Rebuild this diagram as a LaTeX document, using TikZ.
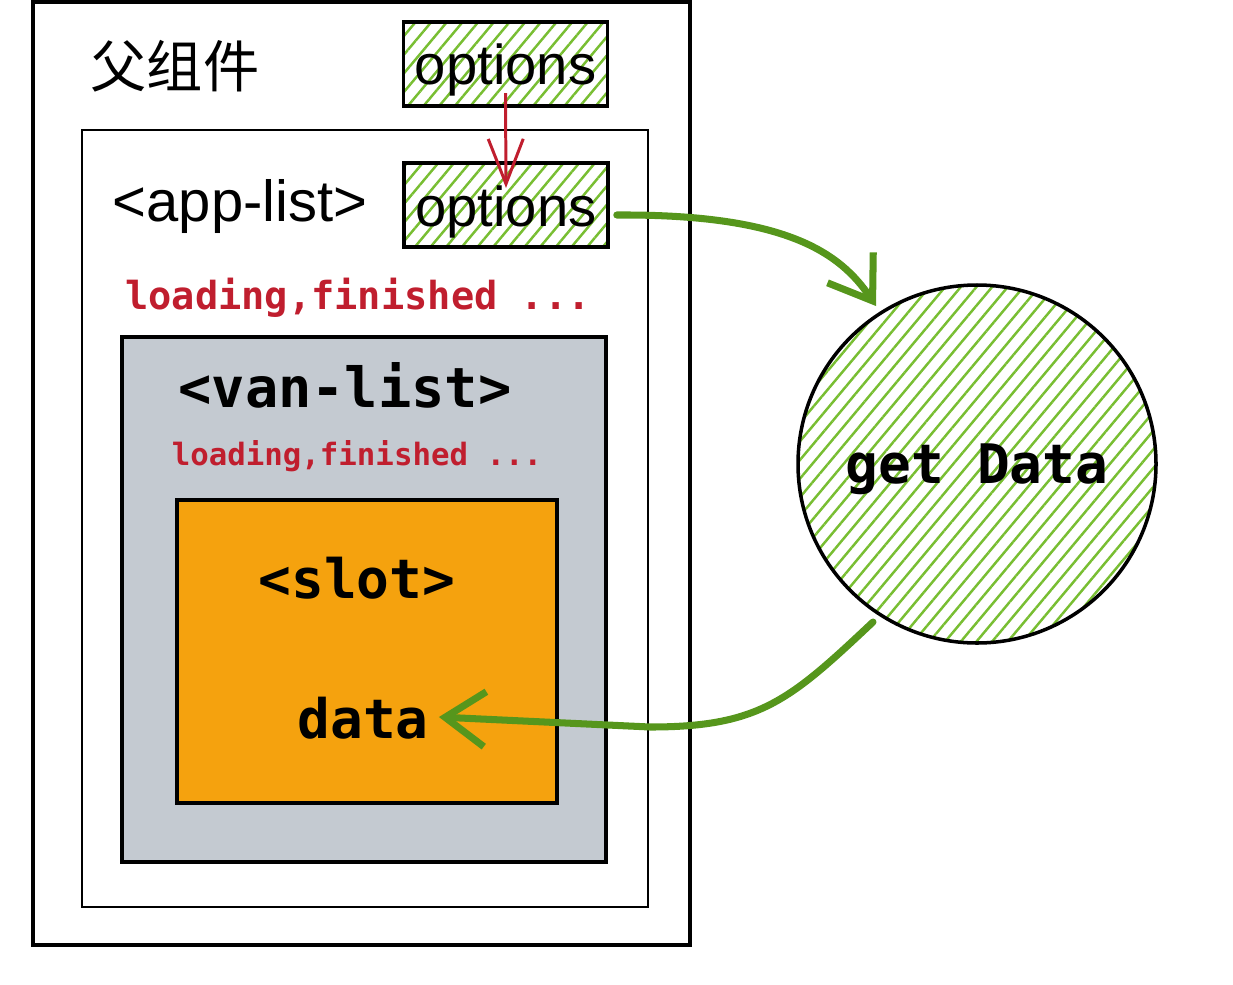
\documentclass[tikz,border=0pt]{standalone}
\usepackage{fontspec}
\setmainfont{Liberation Sans}
\setmonofont{DejaVu Sans Mono}
\newfontfamily\cjkfont{Noto Sans CJK SC}
\usetikzlibrary{arrows.meta,positioning,patterns.meta}
\definecolor{hatchgreen}{RGB}{120,190,50}
\definecolor{arrowgreen}{RGB}{86,150,28}
\definecolor{propred}{RGB}{192,30,46}
\definecolor{listgray}{RGB}{196,202,209}
\definecolor{slotorange}{RGB}{245,162,14}
\newcommand{\fsz}[1]{\fontsize{#1}{#1}\selectfont}

\begin{document}
\begin{tikzpicture}[x=0.02cm,y=-0.02cm,
		hatch/.style={pattern={Lines[angle=50,distance=0.24cm,line width=1.4pt]},pattern color=hatchgreen},
		box/.style 2 args={draw=black,minimum width={#1*0.02cm},minimum height={#2*0.02cm},inner sep=0pt},
		optbox/.style={box={204}{84},line width=2pt,hatch,font=\fsz{32},text height=0.84cm,text depth=0pt},
		codetxt/.style={font=\ttfamily\bfseries\fsz{#1},inner sep=0pt},
		redtxt/.style={codetxt=#1,text=propred},
		flow/.style={arrowgreen,line width=4pt,line cap=round,-{Straight Barb[length=0.8cm,width=1.1cm,line width=4pt]}},
		pass/.style={propred,line width=1.7pt,-{Straight Barb[length=0.9cm,width=0.7cm,line width=1.7pt]}}]
		\useasboundingbox (0,0) rectangle (1233,984);
		% nested components
		\node[box={657}{943},line width=2.8pt] (parent) at (361.5,473.5) {};
		\node[box={566}{777},line width=1.5pt] (applist) at (365,518.5) {};
		\node[box={484}{525},line width=1.8pt,fill=listgray] (vanlist) at (364,599.5) {};
		\node[box={380}{303},line width=1.8pt,fill=slotorange] (slot) at (367,651.5) {};
		% labels
		\node[inner sep=0pt,font=\cjkfont\fsz{32}] (parenttxt) at (175,66) {父组件};
		\node[inner sep=0pt,font=\fsz{33}] (apptxt) at (240,207) {<app-list>};
		\node[redtxt=22] (appstate) at (358,298) {loading,finished ...};
		\node[codetxt=31.5] (vantxt) at (345,385) {<van-list>};
		\node[redtxt=17.5] (vanstate) at (357,456) {loading,finished ...};
		\node[codetxt=31] (slottxt) at (357,578) {<slot>};
		\node[codetxt=31] (data) at (363,718) {data};
		% options props
		\node[optbox] (opt1) at (505.5,64) {options};
		\node[optbox] (opt2) at (506,205) {options};
		\node[circle,draw=black,line width=2pt,minimum size={358*0.02cm},hatch,text depth=0pt,font=\ttfamily\bfseries\fsz{31}] (getdata) at (977,464) {get Data};
		% arrows
		\coordinate (tipA) at (876,306);
		\coordinate (startB) at (873,622);
		\draw[pass] ([shift={(0,-14)}]opt1.south) -- ([shift={(0,-17)}]opt2.center);
		\draw[flow] ([shift={(7,10)}]opt2.east) .. controls (785,214) and (840,252) .. (tipA);
		\draw[flow] (startB) .. controls (790,700) and (760,727) .. (650,727) -- ([shift={(10,-1)}]data.east);
\end{tikzpicture}
\end{document}
